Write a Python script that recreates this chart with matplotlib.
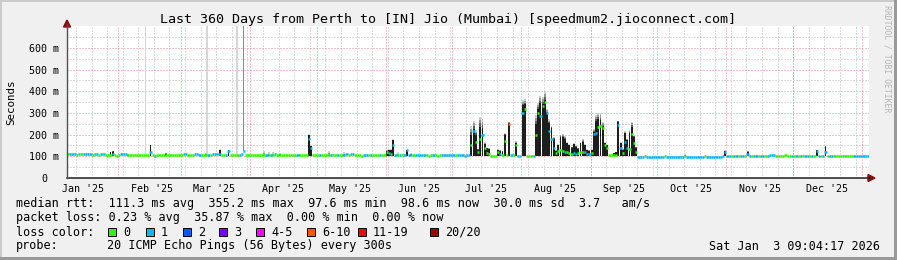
import numpy as np
import matplotlib
matplotlib.use("Agg")

import matplotlib.pyplot as plt
from matplotlib.lines import Line2D
from matplotlib.patches import Rectangle, Polygon
import matplotlib.transforms as mtransforms


W, H = 897, 260
MONO = "DejaVu Sans Mono"

# ---- data (days since 2025-01-09, one value per day) ----
start_day = np.datetime64("2025-01-09")

median_ms = [
    110, 112, 113, 112, 108, 112, 109, 113, 112, 113,
    112, 108, 111, 112, 108, 111, 110, 107, 106, 107,
    112, 104, 102, 104, 109, 110, 109, 106, 105, 105,
    106, 104, 105, 106, 106, 105, 106, 118, 106, 103,
    105, 106, 105, 104, 105, 105, 106, 105, 106, 107,
    108, 107, 110, 109, 106, 105, 106, 109, 110, 108,
    106, 105, 106, 107, 106, 110, 111, 110, 112, 108,
    106, 108, 125, 105, 105, 104, 105, 108, 109, 124,
    105, 106, 105, 106, 106, 105, 106, 105, 107, 106,
    107, 108, 106, 109, 106, 105, 106, 104, 105, 106,
    105, 104, 106, 105, 108, 104, 105, 104, 180, 140,
    104, 105, 104, 106, 106, 105, 104, 107, 106, 108,
    105, 106, 104, 105, 108, 109, 106, 110, 109, 105,
    104, 104, 103, 106, 108, 107, 106, 104, 104, 104,
    106, 104, 104, 121, 115, 112, 152, 106, 108, 105,
    106, 105, 127, 107, 108, 106, 105, 107, 106, 104,
    105, 104, 103, 104, 105, 104, 103, 104, 106, 105,
    105, 106, 106, 105, 106, 105, 104, 104, 103, 104,
    104, 150, 215, 165, 120, 180, 200, 140, 115, 110,
    103, 102, 103, 118, 112, 108, 170, 105, 248, 104,
    104, 150, 102, 102, 300, 320, 103, 102, 102, 103,
    200, 300, 285, 330, 352, 300, 215, 180, 140, 115,
    125, 130, 125, 120, 118, 115, 112, 115, 112, 115,
    118, 120, 118, 110, 112, 115, 205, 207, 235, 240,
    230, 150, 140, 106, 106, 108, 108, 245, 140, 115,
    168, 140, 135, 205, 160, 120, 99, 99, 99, 100,
    99, 99, 99, 99, 99, 99, 99, 99, 100, 99,
    99, 99, 99, 99, 99, 99, 99, 100, 99, 99,
    99, 99, 99, 99, 99, 99, 100, 99, 99, 99,
    99, 99, 99, 99, 100, 118, 100, 100, 101, 100,
    101, 100, 101, 100, 101, 110, 100, 101, 100, 101,
    100, 101, 100, 101, 100, 104, 106, 104, 101, 101,
    101, 101, 104, 103, 101, 101, 100, 101, 101, 100,
    101, 100, 101, 100, 101, 101, 125, 101, 100, 101,
    120, 101, 100, 101, 100, 101, 101, 100, 101, 101,
    101, 100, 101, 101, 100, 101, 100, 100, 101, 100,
]

# index into loss_labels
loss_level = [
    0, 1, 1, 1, 0, 1, 0, 1, 1, 1,
    1, 0, 1, 1, 0, 1, 1, 0, 0, 0,
    1, 0, 0, 0, 1, 1, 1, 0, 0, 0,
    0, 0, 0, 0, 0, 0, 0, 1, 0, 1,
    0, 0, 0, 0, 0, 0, 0, 0, 0, 0,
    0, 0, 1, 1, 0, 0, 0, 1, 1, 1,
    0, 0, 0, 1, 0, 1, 1, 1, 1, 0,
    0, 1, 1, 0, 0, 0, 0, 1, 1, 1,
    0, 0, 0, 0, 0, 0, 0, 0, 0, 1,
    0, 1, 0, 1, 0, 0, 0, 0, 0, 0,
    0, 0, 0, 1, 0, 0, 0, 0, 1, 1,
    0, 0, 0, 1, 0, 0, 0, 0, 1, 0,
    0, 1, 0, 0, 1, 1, 0, 1, 1, 0,
    0, 0, 0, 1, 1, 0, 1, 0, 0, 0,
    1, 0, 0, 0, 1, 0, 1, 1, 0, 1,
    0, 1, 1, 1, 1, 0, 1, 1, 1, 1,
    1, 0, 0, 0, 1, 0, 0, 0, 1, 1,
    1, 1, 1, 1, 0, 1, 1, 1, 1, 1,
    1, 0, 1, 0, 0, 0, 1, 0, 0, 0,
    0, 0, 0, 0, 1, 0, 0, 0, 5, 1,
    0, 0, 1, 1, 1, 0, 0, 0, 0, 1,
    0, 0, 1, 0, 0, 1, 1, 1, 1, 0,
    0, 0, 0, 1, 0, 0, 0, 1, 1, 0,
    0, 0, 1, 1, 1, 0, 1, 1, 0, 0,
    0, 0, 0, 0, 0, 0, 0, 1, 1, 0,
    1, 1, 0, 0, 0, 0, 1, 1, 1, 0,
    1, 1, 1, 1, 1, 1, 1, 1, 0, 1,
    1, 1, 1, 1, 1, 1, 1, 0, 1, 1,
    1, 1, 1, 1, 1, 1, 0, 1, 1, 1,
    1, 1, 1, 1, 1, 1, 1, 1, 0, 1,
    1, 0, 1, 1, 0, 1, 1, 0, 1, 1,
    0, 1, 1, 0, 1, 1, 1, 1, 0, 0,
    0, 0, 0, 0, 0, 1, 0, 1, 0, 1,
    0, 1, 1, 0, 1, 0, 1, 1, 0, 1,
    1, 0, 1, 1, 0, 0, 0, 0, 0, 0,
    0, 0, 0, 1, 1, 1, 1, 1, 1, 1,
]

# smoke (spread of the 20 pings): dense core top and faint top, ms
smoke_day = [
    19, 20, 27, 37, 44, 62, 68, 72, 88, 90, 92, 95, 104, 108, 109, 117,
    124, 143, 144, 145, 146, 148, 152, 154,
    181, 182, 183, 184, 185, 186, 187, 188, 189, 193, 194, 195, 196, 198,
    201, 204, 205, 210, 211, 212, 213, 214, 215, 216, 217, 218, 219, 220,
    221, 222, 223, 224, 225, 226, 227, 228, 229, 230, 231, 232, 233, 234,
    235, 236, 237, 238, 239, 240, 241, 242, 245, 246, 247, 248, 249, 250,
    251, 252, 253, 254, 255, 277, 295, 305, 336, 340, 344,
]
smoke_core_ms = [
    118, 122, 100, 150, 112, 100, 130, 128, 100, 100, 100, 100, 100, 198, 148, 100,
    100, 126, 130, 130, 175, 100, 129, 100,
    200, 225, 200, 130, 237, 230, 155, 138, 135, 130, 125, 122, 198, 253,
    160, 335, 340, 250, 320, 345, 340, 360, 300, 255, 230, 180, 125, 150,
    190, 190, 180, 160, 150, 140, 155, 145, 135, 160, 165, 150, 130, 125,
    130, 210, 265, 270, 267, 240, 160, 150, 115, 118, 260, 160, 130, 207,
    175, 207, 237, 190, 140, 100, 125, 121, 129, 145, 100,
]
smoke_top_ms = [
    120, 124, 112, 154, 115, 115, 132, 130, 125, 118, 118, 116, 112, 202, 150, 125,
    118, 128, 132, 132, 178, 118, 131, 116,
    240, 265, 220, 135, 283, 270, 165, 140, 138, 132, 128, 124, 207, 258,
    170, 360, 365, 290, 345, 380, 375, 398, 320, 270, 240, 190, 128, 155,
    200, 205, 195, 165, 155, 145, 160, 150, 140, 165, 180, 155, 132, 128,
    132, 225, 290, 300, 300, 260, 165, 152, 117, 120, 265, 165, 133, 215,
    180, 220, 260, 195, 145, 110, 127, 123, 131, 148, 108,
]

# single pings far off the top of the scale
outlier_day = [35.0, 62.4, 75.9, 79.0]
outlier_width = [0.5, 1.0, 1.0, 0.4]
outlier_shade = ["#d6d6d6", "#d6d6d6", "#d6d6d6", "#8c8c8c"]

loss_labels = ["0", "1", "2", "3", "4-5", "6-10", "11-19", "20/20"]
loss_colors = ["#26ff00", "#00b8ff", "#0059ff", "#7e00ff",
               "#ff00ff", "#ff5500", "#ff0000", "#a10000"]

y_ticks = [0, 100, 200, 300, 400, 500, 600]
y_labels = ["0", "100 m", "200 m", "300 m", "400 m", "500 m", "600 m"]

line_rtt = "median rtt:  111.3 ms avg  355.2 ms max  97.6 ms min  98.6 ms now  30.0 ms sd  3.7   am/s"
line_loss = "packet loss: 0.23 % avg  35.87 % max  0.00 % min  0.00 % now"
line_probe = "20 ICMP Echo Pings (56 Bytes) every 300s"
stamp = "Sat Jan  3 09:04:17 2026"

SMOKE_FLOOR = 100


def fx(x):
    return x / W


def fy(y):
    return 1 - y / H


def main():
    fig = plt.figure(figsize=(W / 100, H / 100), dpi=100)
    fig.patch.set_facecolor("#F0F0F0")

    ax = fig.add_axes([fx(67), fy(178), (869 - 67) / W, (178 - 26.3) / H])
    ax.set_facecolor("white")
    ax.set_xlim(0, 360)
    ax.set_ylim(0, 700)
    for s in ax.spines.values():
        s.set_visible(False)

    # grid
    months = np.arange("2025-01", "2026-02", dtype="datetime64[M]").astype("datetime64[D]")
    month_pos = (months - start_day).astype(int)
    mondays = np.arange(np.datetime64("2025-01-13"), np.datetime64("2026-01-05"), 7)
    week_pos = (mondays - start_day).astype(int)

    dots = (0, (1, 2))
    for d in week_pos:
        ax.axvline(d, color="#bdbdbd", lw=0.72, ls=dots, zorder=0)
    for v in range(50, 700, 100):
        ax.axhline(v, color="#bdbdbd", lw=0.72, ls=dots, zorder=0)
    for d in month_pos:
        if 0 < d < 360:
            ax.axvline(d, color="#f09090", lw=0.72, ls=dots, zorder=0.5)
    for v in y_ticks[1:]:
        ax.axhline(v, color="#f09090", lw=0.72, ls=dots, zorder=0.5)

    # outliers off the scale
    ax.bar(outlier_day, 800, bottom=[median_ms[int(d)] for d in outlier_day],
           width=outlier_width, align="edge", color=outlier_shade,
           linewidth=0, zorder=1)

    # smoke
    sd = np.array(smoke_day) + 0.08
    core = np.array(smoke_core_ms, dtype=float)
    top = np.array(smoke_top_ms, dtype=float)
    ax.bar(sd, core - SMOKE_FLOOR, bottom=SMOKE_FLOOR, width=0.84, align="edge",
           color="#1e1e1e", linewidth=0, zorder=2)
    shades = ["#5e5e5e", "#9a9a9a", "#cdcdcd"]
    for k, c in enumerate(shades):
        lo = core + (top - core) * k / 3
        hi = core + (top - core) * (k + 1) / 3
        ax.bar(sd, hi - lo, bottom=lo, width=0.84, align="edge",
               color=c, linewidth=0, zorder=2)

    # median rtt coloured by loss
    days = np.arange(len(median_ms))
    ax.hlines(median_ms, days, days + 1,
              colors=[loss_colors[i] for i in loss_level], lw=1.8, zorder=3)

    # ticks
    month_names = ["Jan", "Feb", "Mar", "Apr", "May", "Jun",
                   "Jul", "Aug", "Sep", "Oct", "Nov", "Dec"]
    label_pos = month_pos[:-1] + 15
    label_txt = []
    for m in months[:-1]:
        t = np.datetime_as_string(m, unit="M")
        label_txt.append(f"{month_names[int(t[5:7]) - 1]} '{t[2:4]}")
    ax.set_xticks(label_pos, labels=label_txt)
    ax.set_yticks(y_ticks, labels=y_labels)
    ax.tick_params(axis="x", length=0, pad=4.2, labelsize=7.2)
    ax.tick_params(axis="y", length=0, pad=5.8, labelsize=7.2)
    for lab in ax.get_xticklabels() + ax.get_yticklabels():
        lab.set_family(MONO)
    zero = ax.get_yticklabels()[0]
    zero.set_transform(zero.get_transform() +
                       mtransforms.ScaledTranslation(-12 / 100, 0, fig.dpi_scale_trans))

    # axes lines and arrows
    fig.add_artist(Line2D([fx(67), fx(870)], [fy(178), fy(178)], color="#202020", lw=1.1))
    fig.add_artist(Line2D([fx(67), fx(67)], [fy(178), fy(24)], color="#505050", lw=1.0))
    fig.add_artist(Polygon([(fx(868), fy(174.5)), (fx(868), fy(181.5)), (fx(875), fy(178))],
                           closed=True, color="#8b1010", transform=fig.transFigure))
    fig.add_artist(Polygon([(fx(63.5), fy(27)), (fx(70.5), fy(27)), (fx(67), fy(20))],
                           closed=True, color="#8b1010", transform=fig.transFigure))

    # texts
    fig.text(fx(448), fy(19), "Last 360 Days from Perth to [IN] Jio (Mumbai) [speedmum2.jioconnect.com]",
             ha="center", va="center", fontsize=9.6, family=MONO)
    fig.text(fx(11), fy(102), "Seconds", rotation=90, ha="center", va="center",
             fontsize=7.8, family=MONO)
    fig.text(fx(887), fy(5), "RRDTOOL / TOBI OETIKER", rotation=270, ha="center", va="top",
             fontsize=5.9, family=MONO, color="#b4b4b4")

    fig.text(fx(16), fy(204), line_rtt, ha="left", va="center", fontsize=8.5, family=MONO)
    fig.text(fx(16), fy(218), line_loss, ha="left", va="center", fontsize=8.5, family=MONO)

    fig.text(fx(16), fy(232), "loss color:", ha="left", va="center", fontsize=8.5, family=MONO)
    square_x = [108, 146, 183, 219, 256, 307, 358, 430]
    for sx, lab, col in zip(square_x, loss_labels, loss_colors):
        fig.add_artist(Rectangle((fx(sx), fy(236)), 8 / W, 8 / H, facecolor=col,
                                 edgecolor="black", lw=0.7, transform=fig.transFigure))
        fig.text(fx(sx + 15), fy(232), lab, ha="left", va="center", fontsize=8.5, family=MONO)

    fig.text(fx(16), fy(246), "probe:", ha="left", va="center", fontsize=8.5, family=MONO)
    fig.text(fx(107), fy(246), line_probe, ha="left", va="center", fontsize=8.5, family=MONO)
    fig.text(fx(880), fy(246), stamp, ha="right", va="center", fontsize=8.5, family=MONO)

    # 3d frame
    fig.add_artist(Rectangle((0, fy(2)), 1, 2 / H, color="#cbcbcb", lw=0, transform=fig.transFigure))
    fig.add_artist(Rectangle((0, 0), 2 / W, 1, color="#cbcbcb", lw=0, transform=fig.transFigure))
    fig.add_artist(Rectangle((0, 0), 1, 3 / H, color="#9a9a9a", lw=0, transform=fig.transFigure))
    fig.add_artist(Rectangle((fx(894), 0), 3 / W, 1, color="#9a9a9a", lw=0, transform=fig.transFigure))

    fig.savefig("out.png", dpi=100, facecolor=fig.get_facecolor())
    plt.close(fig)


if __name__ == "__main__":
    main()
